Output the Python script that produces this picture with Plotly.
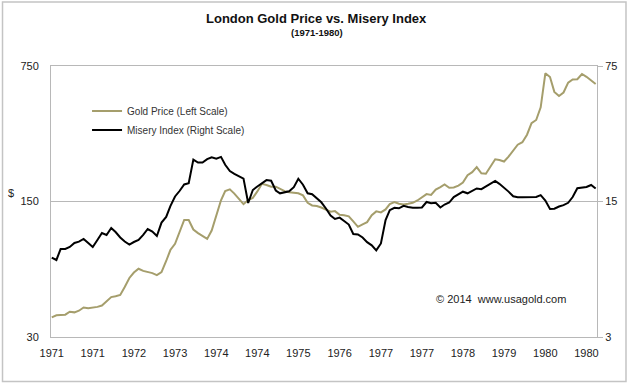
import math
import pandas as pd
import plotly.graph_objects as go

# ---- data (monthly, Jan 1971 - Dec 1980) ----
months = pd.date_range("1971-01-01", periods=120, freq="MS")

gold_price = [
    37.9, 38.8, 39.0, 39.1, 40.5, 40.2, 41.0, 42.6, 42.2, 42.5, 42.9, 43.6,
    45.6, 48.2, 48.7, 49.4, 54.3, 60.5, 64.5, 67.5, 65.8, 64.9, 64.1, 62.6,
    64.8, 74.0, 84.3, 90.8, 103.8, 120.4, 120.4, 107.5, 103.0, 100.0, 96.2, 106.2,
    128.1, 152.2, 169.7, 173.4, 164.8, 154.7, 145.3, 152.7, 156.6, 169.1, 185.1, 182.5,
    178.9, 178.9, 174.0, 169.7, 167.5, 165.9, 165.3, 161.3, 147.7, 143.2, 142.2, 139.7,
    136.4, 133.0, 133.8, 128.1, 127.5, 125.8, 118.4, 111.0, 114.3, 117.4, 127.5, 133.4,
    131.8, 136.6, 145.6, 148.9, 146.0, 144.6, 146.0, 147.7, 151.8, 157.9, 163.8, 162.2,
    172.8, 178.0, 183.6, 176.7, 177.2, 181.2, 187.8, 205.1, 212.5, 225.5, 209.5, 208.7,
    228.6, 247.6, 245.5, 241.2, 255.7, 275.2, 294.5, 303.4, 331.7, 380.2, 395.0, 459.3,
    687.8, 658.2, 551.4, 525.3, 547.5, 615.9, 639.7, 640.9, 682.2, 659.7, 630.1, 605.7,
]

misery_index = [
    7.71, 7.49, 8.53, 8.53, 8.74, 9.16, 9.31, 9.61, 9.16, 8.74, 9.50, 10.32,
    10.08, 10.95, 10.44, 9.78, 9.33, 9.00, 9.27, 9.50, 10.08, 10.82, 10.50, 9.96,
    11.68, 12.48, 14.19, 15.92, 16.99, 18.36, 18.62, 24.67, 23.81, 23.83, 24.79, 25.36,
    24.97, 25.48, 23.20, 21.55, 20.85, 20.26, 19.69, 14.74, 17.19, 17.93, 18.68, 19.34,
    19.20, 17.09, 16.53, 16.71, 16.93, 17.78, 19.66, 18.31, 16.53, 16.36, 15.64, 14.86,
    13.80, 12.70, 12.19, 12.39, 11.90, 11.41, 10.20, 10.15, 9.78, 9.25, 8.91, 8.39,
    9.11, 12.04, 13.53, 13.92, 13.84, 14.25, 14.05, 13.92, 13.93, 13.97, 14.91, 14.68,
    14.79, 13.97, 14.47, 14.82, 15.82, 16.40, 16.85, 16.53, 17.09, 17.51, 17.36, 17.93,
    18.57, 19.14, 18.51, 17.69, 16.87, 15.96, 15.77, 15.79, 15.82, 15.86, 15.82, 16.17,
    15.18, 13.72, 13.77, 14.13, 14.36, 14.77, 15.82, 17.57, 17.76, 17.82, 18.25, 17.51,
]

tick_dates = pd.date_range("1971-01-01", periods=14, freq="9MS")
tick_labels = ["1971", "1971", "1972", "1973", "1974", "1974", "1975",
               "1976", "1977", "1977", "1978", "1979", "1980", "1980"]

left_ticks = [30, 150, 750]
right_ticks = [3, 15, 75]

series_names = ["Gold Price (Left Scale)", "Misery Index (Right Scale)"]

FONT = "Liberation Sans, Arial, Helvetica, sans-serif"
GOLD = "#a59e6c"
GRID = "#b8b8b8"
TXT = "#222222"

fig = go.Figure()
fig.add_trace(go.Scatter(x=months, y=gold_price, name=series_names[0], mode="lines",
                         line=dict(color=GOLD, width=2), yaxis="y"))
fig.add_trace(go.Scatter(x=months, y=misery_index, name=series_names[1], mode="lines",
                         line=dict(color="#000000", width=2), yaxis="y2"))

fig.update_layout(
    width=632, height=386,
    margin=dict(l=51, r=35, t=66, b=49),
    paper_bgcolor="white", plot_bgcolor="white",
    font=dict(family=FONT, size=11, color=TXT),
    showlegend=True,
    legend=dict(x=0.066, y=0.887, xanchor="left", yanchor="top",
                bgcolor="rgba(0,0,0,0)", font=dict(size=10, color="#333333"),
                tracegroupgap=0),
    xaxis=dict(
        type="date",
        range=["1970-12-27", "1980-12-10"],
        tickvals=list(tick_dates), ticktext=tick_labels,
        showgrid=False, zeroline=False,
        showline=True, mirror=True, linecolor=GRID, linewidth=1,
        ticks="", ticklabelstandoff=6,
        tickfont=dict(size=11, color=TXT),
    ),
    yaxis=dict(
        type="log",
        range=[math.log10(30), math.log10(750)],
        tickvals=left_ticks, ticktext=[str(v) for v in left_ticks],
        showgrid=True, gridcolor=GRID, gridwidth=1,
        showline=True, mirror=True, linecolor=GRID, linewidth=1,
        ticks="", ticklabelstandoff=9,
        tickfont=dict(size=11, color=TXT),
        zeroline=False,
    ),
    yaxis2=dict(
        type="log", overlaying="y", side="right",
        range=[math.log10(3), math.log10(75)],
        tickvals=right_ticks, ticktext=[str(v) for v in right_ticks],
        showgrid=False, showline=False,
        ticks="outside", ticklen=5, tickcolor=GRID, tickwidth=1,
        tickfont=dict(size=11, color=TXT),
        zeroline=False,
    ),
    shapes=[dict(type="rect", xref="paper", yref="paper",
                 x0=-0.0888, x1=1.0531, y0=-0.164, y1=1.236,
                 line=dict(color="#c4c4c4", width=1.5), fillcolor="rgba(0,0,0,0)",
                 layer="below")],
    annotations=[
        dict(text="<b>London Gold Price vs. Misery Index</b>", xref="paper", yref="paper",
             x=0.487, y=1.177, showarrow=False, font=dict(size=13, color="#111111"),
             xanchor="center", yanchor="middle"),
        dict(text="<b>(1971-1980)</b>", xref="paper", yref="paper",
             x=0.487, y=1.122, showarrow=False, font=dict(size=9.5, color="#111111"),
             xanchor="center", yanchor="middle"),
        dict(text="$", xref="paper", yref="paper", x=-0.074, y=0.531,
             showarrow=False, font=dict(size=11, color=TXT),
             xanchor="center", yanchor="middle"),
        dict(text="\u00a9 2014  www.usagold.com", xref="paper", yref="paper",
             x=0.824, y=0.140, showarrow=False, font=dict(size=11, color=TXT),
             xanchor="center", yanchor="middle"),
    ],
)

fig.write_html("out.html",
               config={"displayModeBar": False},
               post_script="document.body.style.margin='0';document.body.style.overflow='hidden';")
